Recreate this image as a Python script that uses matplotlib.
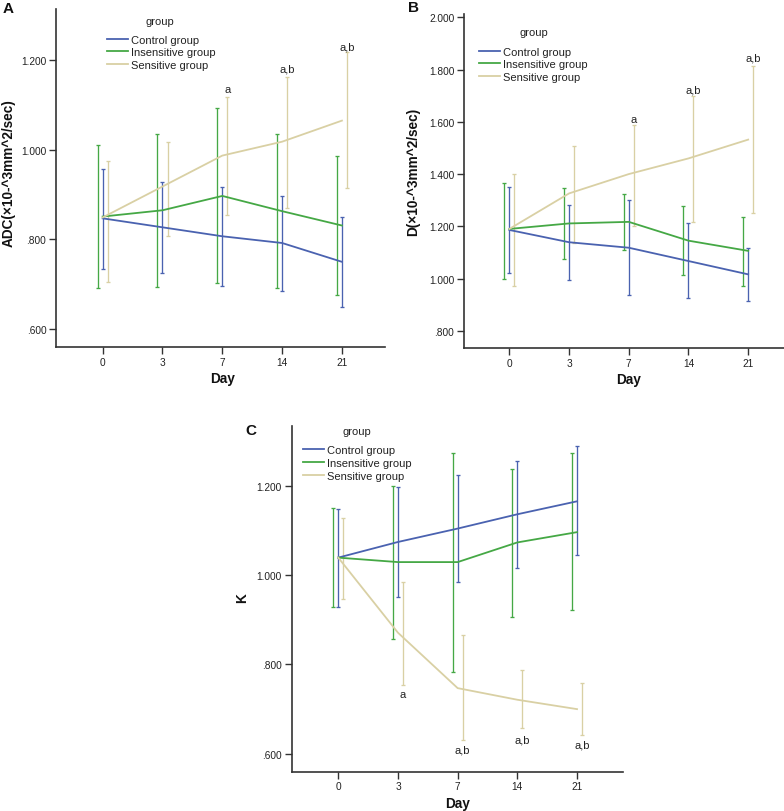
import matplotlib
matplotlib.use("Agg")
import matplotlib.pyplot as plt
from matplotlib.ticker import FuncFormatter, FixedLocator
import matplotlib.transforms as mtransforms

plt.rcParams['font.family'] = ['Liberation Sans', 'DejaVu Sans']

days = ['0', '3', '7', '14', '21']
groups = ['Control group', 'Insensitive group', 'Sensitive group']
legend_title = 'group'
colors = ['#4a62b0', '#45a845', '#d9d0a4']

# Panel A: ADC
adc_control = [0.847, 0.827, 0.807, 0.792, 0.750]
adc_control_lo = [0.735, 0.726, 0.697, 0.686, 0.649]
adc_control_hi = [0.958, 0.928, 0.918, 0.897, 0.850]
adc_insens = [0.851, 0.865, 0.897, 0.863, 0.831]
adc_insens_lo = [0.692, 0.694, 0.702, 0.692, 0.675]
adc_insens_hi = [1.011, 1.036, 1.093, 1.035, 0.987]
adc_sens = [0.849, 0.918, 0.987, 1.018, 1.065]
adc_sens_lo = [0.705, 0.808, 0.855, 0.871, 0.914]
adc_sens_hi = [0.975, 1.017, 1.117, 1.163, 1.217]
adc_sig_labels = ['', '', 'a', 'a,b', 'a,b']
adc_sig_y = [None, None, 1.135, 1.181, 1.230]

# Panel B: D
d_control = [1.186, 1.139, 1.118, 1.067, 1.016]
d_control_lo = [1.021, 0.993, 0.937, 0.924, 0.914]
d_control_hi = [1.349, 1.283, 1.300, 1.211, 1.117]
d_insens = [1.190, 1.211, 1.217, 1.145, 1.106]
d_insens_lo = [0.997, 1.076, 1.111, 1.012, 0.972]
d_insens_hi = [1.366, 1.345, 1.324, 1.279, 1.236]
d_sens = [1.190, 1.326, 1.400, 1.460, 1.532]
d_sens_lo = [0.970, 1.135, 1.203, 1.218, 1.251]
d_sens_hi = [1.402, 1.508, 1.589, 1.698, 1.812]
d_sig_labels = ['', '', 'a', 'a,b', 'a,b']
d_sig_y = [None, None, 1.611, 1.723, 1.847]

# Panel C: K
k_control = [1.039, 1.074, 1.104, 1.136, 1.165]
k_control_lo = [0.928, 0.951, 0.985, 1.016, 1.044]
k_control_hi = [1.147, 1.197, 1.224, 1.256, 1.288]
k_insens = [1.039, 1.029, 1.029, 1.073, 1.096]
k_insens_lo = [0.928, 0.856, 0.784, 0.907, 0.921]
k_insens_hi = [1.151, 1.200, 1.273, 1.238, 1.274]
k_sens = [1.039, 0.871, 0.747, 0.721, 0.700]
k_sens_lo = [0.947, 0.755, 0.630, 0.657, 0.641]
k_sens_hi = [1.128, 0.984, 0.865, 0.788, 0.759]
k_sig_labels = ['', 'a', 'a,b', 'a,b', 'a,b']
k_sig_y = [None, 0.734, 0.609, 0.633, 0.620]

W, H = 784, 812
fig = plt.figure(figsize=(W / 100, H / 100), dpi=100)


def px_axes(left, top, right, bottom):
    return fig.add_axes([left / W, 1 - bottom / H, (right - left) / W, (bottom - top) / H])


def fmt(v, pos):
    s = f"{v:.3f}"
    if s.startswith('0'):
        s = s[1:]
    return s


dodge = 0.084
axis_col = '#333333'


def draw_panel(ax, series, yticks, ylim, xlim, ylabel, sig_labels, sig_y,
               ylab_xy, legend_xy, title_xy, letter, letter_xy):
    x = list(range(len(days)))
    offsets = [0.0, -dodge, dodge]
    handles = []
    for (mean, lo, hi), col, off in zip(series, colors, offsets):
        xe = [xi + off for xi in x]
        yerr = [[m - l for m, l in zip(mean, lo)], [h - m for m, h in zip(mean, hi)]]
        ax.errorbar(xe, mean, yerr=yerr, fmt='none', ecolor=col, elinewidth=0.95,
                    capsize=1.6, capthick=0.95, zorder=2)
    for (mean, lo, hi), col in zip(series, colors):
        ln, = ax.plot(x, mean, color=col, lw=1.3, zorder=3)
        handles.append(ln)
    for xi, lab, yv in zip(x, sig_labels, sig_y):
        if lab:
            ax.text(xi + dodge, yv, lab, ha='center', va='center', fontsize=8, color='#222222')
    ax.set_xlim(*xlim)
    ax.set_ylim(*ylim)
    ax.set_xticks(x)
    ax.set_xticklabels(days)
    ax.yaxis.set_major_locator(FixedLocator(yticks))
    ax.yaxis.set_major_formatter(FuncFormatter(fmt))
    for s in ['top', 'right']:
        ax.spines[s].set_visible(False)
    for s in ['left', 'bottom']:
        ax.spines[s].set_color(axis_col)
        ax.spines[s].set_linewidth(1.2)
    ax.tick_params(axis='both', colors=axis_col, labelcolor='#222222', labelsize=7.3,
                   length=5, width=1.0, pad=2)
    ax.set_ylabel(ylabel, fontsize=9.8, fontweight='bold', color='#111111')
    ax.yaxis.label.set_va('center')
    ax.yaxis.set_label_coords(*ylab_xy)
    trans = mtransforms.blended_transform_factory(ax.transData, ax.transAxes)
    bb = ax.get_position()
    ax.text(2, -24 / (bb.height * H), 'Day', transform=trans, ha='center', va='top',
            fontsize=9.8, fontweight='bold', color='#111111')
    leg = ax.legend(handles, groups, frameon=False, fontsize=8, loc='upper left',
                    bbox_to_anchor=(legend_xy[0] / W, 1 - legend_xy[1] / H),
                    bbox_transform=fig.transFigure, borderpad=0, borderaxespad=0,
                    handlelength=1.9, handletextpad=0.25, labelspacing=0.25)
    for t in leg.get_texts():
        t.set_color('#222222')
    fig.text(title_xy[0] / W, 1 - title_xy[1] / H, legend_title, ha='center', va='center',
             fontsize=8, color='#222222')
    fig.text(letter_xy[0] / W, 1 - letter_xy[1] / H, letter, ha='center', va='center',
             fontsize=11, fontweight='bold', color='#111111')


axA = px_axes(56, 10, 385, 348)
draw_panel(axA,
           [(adc_control, adc_control_lo, adc_control_hi),
            (adc_insens, adc_insens_lo, adc_insens_hi),
            (adc_sens, adc_sens_lo, adc_sens_hi)],
           [0.6, 0.8, 1.0, 1.2], (0.56, 1.314), (-0.78, 4.72),
           'ADC(×10-^3mm^2/sec)', adc_sig_labels, adc_sig_y,
           (-0.143, 0.516), (107, 35.5), (160, 22), 'A', (8, 9))

axB = px_axes(464, 15, 784, 349)
draw_panel(axB,
           [(d_control, d_control_lo, d_control_hi),
            (d_insens, d_insens_lo, d_insens_hi),
            (d_sens, d_sens_lo, d_sens_hi)],
           [0.8, 1.0, 1.2, 1.4, 1.6, 1.8, 2.0], (0.734, 2.013), (-0.76, 4.6),
           'D(×10-^3mm^2/sec)', d_sig_labels, d_sig_y,
           (-0.159, 0.531), (479, 47.5), (533.7, 33), 'B', (414, 8))

axC = px_axes(291.7, 427, 623, 772.7)
draw_panel(axC,
           [(k_control, k_control_lo, k_control_hi),
            (k_insens, k_insens_lo, k_insens_hi),
            (k_sens, k_sens_lo, k_sens_hi)],
           [0.6, 0.8, 1.0, 1.2], (0.56, 1.3335), (-0.78, 4.77),
           'K', k_sig_labels, k_sig_y,
           (-0.151, 0.505), (302.7, 446.2), (356.7, 432), 'C', (250.5, 431))

fig.savefig('out.png', dpi=100)
